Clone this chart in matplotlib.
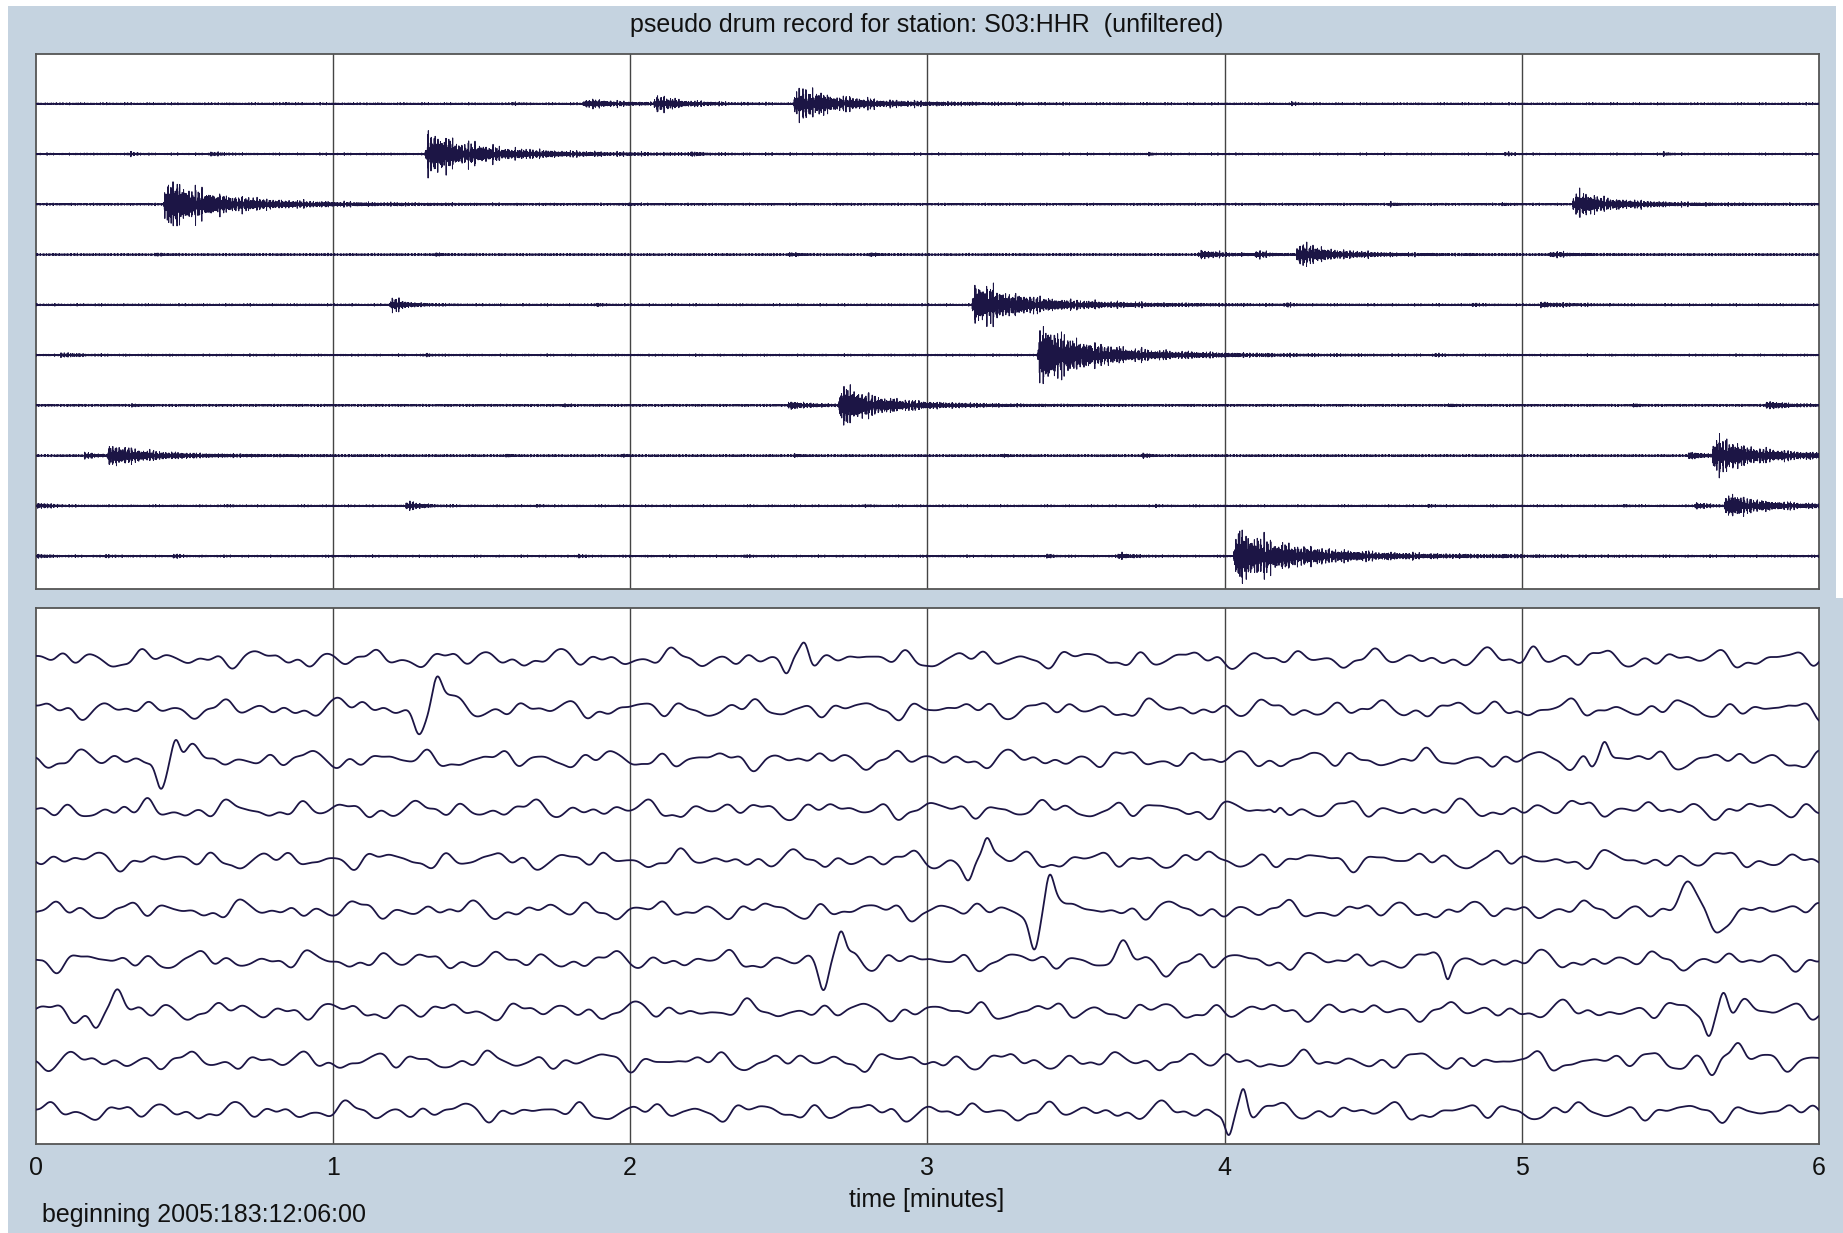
import numpy as np
import matplotlib
matplotlib.use("Agg")
import matplotlib.pyplot as plt
from matplotlib.patches import Rectangle

plt.rcParams['font.family'] = ['Liberation Sans', 'DejaVu Sans']

# ---------------------------------------------------------------- data
title_text = "pseudo drum record for station: S03:HHR  (unfiltered)"
start_text = "beginning 2005:183:12:06:00"
xlabel_text = "time [minutes]"
minute_ticks = [0, 1, 2, 3, 4, 5, 6]
n_lines = 10

# Unfiltered drum lines: bursts as (onset [min], peak amplitude [line spacings], coda length [min])
raw_bursts = [
    [(0.83, 0.04, 0.05), (1.60, 0.04, 0.05), (1.84, 0.10, 0.40), (2.08, 0.20, 0.25),
     (2.55, 0.38, 0.55), (4.22, 0.06, 0.04)],
    [(0.31, 0.06, 0.06), (0.58, 0.06, 0.10), (1.31, 0.50, 0.60), (2.20, 0.05, 0.08),
     (3.74, 0.06, 0.04), (4.94, 0.07, 0.04), (5.47, 0.05, 0.06)],
    [(0.43, 0.55, 0.60), (1.99, 0.05, 0.04), (4.55, 0.06, 0.06), (4.93, 0.05, 0.04),
     (5.17, 0.28, 0.45)],
    [(0.40, 0.05, 0.05), (1.34, 0.05, 0.06), (2.53, 0.06, 0.07), (2.80, 0.06, 0.06),
     (3.91, 0.09, 0.25), (4.10, 0.10, 0.10), (4.24, 0.26, 0.40), (5.09, 0.06, 0.20)],
    [(1.19, 0.18, 0.15), (1.88, 0.05, 0.05), (3.15, 0.47, 0.60), (4.20, 0.05, 0.05),
     (4.83, 0.05, 0.05), (5.06, 0.05, 0.30)],
    [(0.08, 0.05, 0.15), (1.31, 0.05, 0.05), (3.37, 0.66, 0.60), (4.70, 0.04, 0.05)],
    [(0.32, 0.05, 0.04), (1.77, 0.05, 0.04), (2.53, 0.09, 0.20), (2.70, 0.45, 0.45),
     (4.75, 0.05, 0.05), (5.37, 0.04, 0.05), (5.82, 0.10, 0.18)],
    [(0.16, 0.08, 0.10), (0.24, 0.24, 0.45), (1.58, 0.05, 0.04), (1.97, 0.04, 0.04),
     (2.55, 0.05, 0.04), (3.25, 0.06, 0.04), (3.72, 0.08, 0.05), (5.555, 0.10, 0.15),
     (5.64, 0.40, 0.50)],
    [(0.00, 0.08, 0.12), (0.64, 0.04, 0.04), (1.245, 0.14, 0.12), (1.68, 0.04, 0.04),
     (2.78, 0.04, 0.05), (3.76, 0.05, 0.04), (4.68, 0.05, 0.04), (5.34, 0.05, 0.04),
     (5.58, 0.10, 0.10), (5.68, 0.26, 0.45)],
    [(0.00, 0.06, 0.08), (0.23, 0.05, 0.05), (0.46, 0.06, 0.05), (1.82, 0.05, 0.05),
     (2.38, 0.04, 0.05), (3.40, 0.06, 0.05), (3.64, 0.08, 0.12), (4.03, 0.57, 0.70),
     (4.93, 0.05, 0.04)],
]
raw_floor = 0.020   # quiet-time trace level [line spacings]

# Low-passed drum lines: pulse lobes as (centre [min], amplitude [line spacings], half-width [min])
lowpass_lobes = [
    [(2.527, -0.41, 0.016), (2.588, 0.33, 0.014), (2.64, 0.12, 0.02), (5.04, 0.22, 0.02)],
    [(1.10, 0.15, 0.03), (1.288, -0.52, 0.017), (1.348, 0.60, 0.016), (1.40, 0.15, 0.025)],
    [(0.421, -0.56, 0.016), (0.471, 0.50, 0.014), (0.52, 0.08, 0.02), (5.233, -0.15, 0.012),
     (5.278, 0.36, 0.014)],
    [(0.27, -0.22, 0.02), (0.382, 0.20, 0.02), (0.50, -0.15, 0.02), (4.17, -0.15, 0.01),
     (5.24, 0.14, 0.03)],
    [(3.14, -0.43, 0.016), (3.20, 0.39, 0.014), (3.25, 0.08, 0.02)],
    [(3.36, -0.66, 0.015), (3.41, 0.59, 0.014), (3.48, 0.16, 0.02), (5.56, 0.50, 0.025),
     (5.65, -0.46, 0.022)],
    [(2.652, -0.55, 0.016), (2.71, 0.50, 0.014), (2.76, 0.13, 0.02), (3.66, 0.20, 0.02),
     (3.80, -0.20, 0.02), (4.75, -0.25, 0.01)],
    [(0.203, -0.36, 0.018), (0.274, 0.35, 0.018), (5.63, -0.39, 0.014), (5.68, 0.39, 0.014),
     (5.74, 0.12, 0.02)],
    [(5.46, 0.13, 0.02), (5.645, -0.31, 0.018), (5.73, 0.41, 0.02), (5.81, 0.12, 0.02)],
    [(4.015, -0.44, 0.013), (4.064, 0.45, 0.012)],
]
# microseism background of the low-passed lines: (cycles per minute, amplitude)
micro_bands = [(2.9, 0.065), (5.1, 0.070), (7.7, 0.060), (11.3, 0.045), (15.2, 0.020)]
micro_phase = [
    [0.3, 2.1, 4.0, 1.2, 5.1], [1.7, 0.4, 2.9, 5.5, 3.3], [4.2, 3.1, 0.8, 2.4, 1.0],
    [2.6, 5.0, 1.9, 0.2, 4.4], [5.3, 1.4, 3.6, 4.1, 2.2], [0.9, 4.6, 5.7, 3.0, 0.6],
    [3.8, 2.7, 1.3, 5.9, 3.9], [2.0, 0.1, 4.8, 1.6, 5.6], [4.9, 3.5, 2.4, 0.7, 1.8],
    [1.2, 5.8, 0.5, 3.7, 2.9],
]

# ---------------------------------------------------------------- waveform helpers
t = np.linspace(0.0, 6.0, 24001)
tl = np.linspace(0.0, 6.0, 3001)


def burst_envelope(tt, onset, amp, coda):
    dt = tt - onset
    env = np.zeros_like(tt)
    m = dt >= 0
    d = dt[m]
    env[m] = amp * (1 - np.exp(-d / 0.006)) * (
        0.55 * np.exp(-d / (0.2 * coda)) + 0.45 * np.exp(-d / (0.45 * coda)))
    return env


def hf_carrier(tt, k):
    p = 0.7 * k
    base = (np.sin(2 * np.pi * 611 * tt + p)
            + 0.8 * np.sin(2 * np.pi * 707 * tt + 2.1 * p + 1.0)
            + 0.6 * np.sin(2 * np.pi * 853 * tt + 3.3 * p + 2.0)
            + 0.5 * np.sin(2 * np.pi * 523 * tt + 1.7 * p + 0.5)
            + 0.4 * np.sin(2 * np.pi * 389 * tt + 0.9 * p + 2.7))
    spiky = np.abs(np.sin(2 * np.pi * 41 * tt + 1.3 * p) *
                   np.sin(2 * np.pi * 67 * tt + 0.6 * p + 1.1)) ** 1.5
    c = base * (0.6 + 0.6 * spiky)
    # scale so that the tallest strokes reach the envelope
    return c / np.percentile(np.abs(c), 99.0)


# ---------------------------------------------------------------- figure
W, H, DPI = 1843, 1233, 100
fig = plt.figure(figsize=(W / DPI, H / DPI), dpi=DPI)
bg = '#c5d3e0'
fig.patch.set_facecolor(bg)
# white margins of the framed sheet
fig.patches.append(Rectangle((0, 1 - 6 / H), 1, 6 / H, transform=fig.transFigure,
                             facecolor='white', edgecolor='none', zorder=0))
fig.patches.append(Rectangle((0, 0), 8 / W, 1, transform=fig.transFigure,
                             facecolor='white', edgecolor='none', zorder=0))
fig.patches.append(Rectangle((1836 / W, 1 - 598 / H), 1 - 1836 / W, 598 / H,
                             transform=fig.transFigure,
                             facecolor='white', edgecolor='none', zorder=0))

ax_left = 35.7 / W
ax_width = (1819 - 35.7) / W
ax_top = fig.add_axes([ax_left, 1 - 589 / H, ax_width, (589 - 53.5) / H])
ax_bot = fig.add_axes([ax_left, 1 - 1144.4 / H, ax_width, (1144.4 - 608.5) / H])

trace_color = '#1c1545'
grid_color = '#444444'

for k in range(n_lines):
    env = np.full_like(t, raw_floor)
    for onset, amp, coda in raw_bursts[k]:
        env += burst_envelope(t, onset, amp, coda)
    sig = env * hf_carrier(t, k)
    ax_top.plot(t, (k + 1) - sig, color=trace_color, lw=0.7, zorder=3)

for k in range(n_lines):
    sig = np.zeros_like(tl)
    for (f, a), ph in zip(micro_bands, micro_phase[k]):
        sig += a * np.sin(2 * np.pi * f * tl + ph)
    for c, a, w in lowpass_lobes[k]:
        sig += a * np.exp(-0.5 * ((tl - c) / w) ** 2)
    ax_bot.plot(tl, (k + 1) - sig, color=trace_color, lw=1.3, zorder=3,
                solid_joinstyle='round')

for ax in (ax_top, ax_bot):
    ax.set_xlim(0, 6)
    ax.set_ylim(10.654, 0)
    ax.set_facecolor('white')
    for m in minute_ticks[1:-1]:
        ax.axvline(m, color=grid_color, lw=1.0, zorder=2)
    for s in ax.spines.values():
        s.set_color('#555555')
        s.set_linewidth(1.3)
    ax.set_yticks([])

ax_top.set_xticks([])
ax_bot.set_xticks(minute_ticks)
ax_bot.set_xticklabels([str(m) for m in minute_ticks])
ax_bot.tick_params(axis='x', length=0, pad=8, labelsize=18, labelcolor='#111111')

fig.text(927 / W, 1 - 25 / H, title_text, ha='center', va='center',
         fontsize=18, color='#111111')
fig.text(927 / W, 1 - 1200.5 / H, xlabel_text, ha='center', va='center',
         fontsize=18, color='#111111')
fig.text(42 / W, 1 - 1222 / H, start_text, ha='left', va='baseline',
         fontsize=18, color='#111111')

fig.savefig('out.png', dpi=DPI, facecolor=fig.get_facecolor())
